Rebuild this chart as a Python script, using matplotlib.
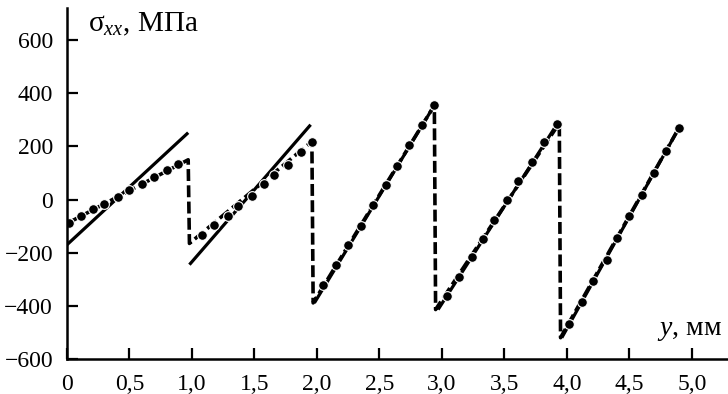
import matplotlib
matplotlib.use("Agg")
import matplotlib.pyplot as plt
import numpy as np

plt.rcParams['font.family'] = ['Liberation Serif', 'DejaVu Serif']
plt.rcParams['mathtext.fontset'] = 'custom'
plt.rcParams['mathtext.rm'] = 'Liberation Serif'
plt.rcParams['mathtext.it'] = 'Liberation Serif:italic'

# Analytical solution (solid sawtooth, NaN separates teeth)
solid_x = [0.00, 0.97, np.nan, 0.98, 1.95, np.nan, 1.98, 2.94, np.nan, 2.97, 3.93, np.nan, 3.96, 4.90]
solid_y = [-170, 252, np.nan, -245, 282, np.nan, -389, 355, np.nan, -414, 290, np.nan, -520, 272]

# Numerical solution (dashed path incl. vertical drops)
dash_x = [0.00, 0.97, 0.98, 1.96, 1.97, 2.94, 2.95, 3.94, 3.95, 4.90]
dash_y = [-90, 150, -165, 219, -389, 355, -414, 288, -520, 272]

# Numerical solution sample points (markers)
mark_x = [0.02, 0.11, 0.21, 0.30, 0.41, 0.50, 0.60, 0.70, 0.80, 0.89,
          1.08, 1.18, 1.29, 1.37, 1.48, 1.58, 1.66, 1.77, 1.87, 1.96,
          2.05, 2.15, 2.25, 2.35, 2.45, 2.55, 2.64, 2.74, 2.84, 2.94,
          3.04, 3.14, 3.24, 3.33, 3.42, 3.52, 3.61, 3.72, 3.82, 3.92,
          4.02, 4.12, 4.21, 4.32, 4.40, 4.50, 4.60, 4.70, 4.79, 4.90]
mark_y = [-88, -60, -35, -15, 10, 35, 60, 85, 110, 135,
          -135, -97, -60, -25, 15, 60, 94, 132, 178, 217,
          -320, -247, -172, -98, -19, 54, 128, 207, 282, 355,
          -364, -291, -217, -147, -75, -3, 71, 142, 217, 286,
          -470, -386, -307, -226, -144, -63, 19, 100, 182, 270]

xticks = [0, 0.5, 1.0, 1.5, 2.0, 2.5, 3.0, 3.5, 4.0, 4.5, 5.0]
xticklabels = ['0', '0,5', '1,0', '1,5', '2,0', '2,5', '3,0', '3,5', '4,0', '4,5', '5,0']
yticks = [-600, -400, -200, 0, 200, 400, 600]
yticklabels = ['\u2212600', '\u2212400', '\u2212200', '0', '200', '400', '600']

fig = plt.figure(figsize=(7.28, 3.94), dpi=100)
ax = fig.add_axes([0.092, 0.089, 0.908, 0.891])

ax.plot(solid_x, solid_y, color='black', lw=2.3, solid_capstyle='butt')
ax.plot(dash_x, dash_y, color='black', lw=2.6, dashes=(3.3, 1.2))
ax.plot(mark_x, mark_y, linestyle='none', marker='o', ms=7, color='black',
        markeredgecolor='white', markeredgewidth=0.8)

ax.set_xlim(0, 5.29)
ax.set_ylim(-600, 722)
ax.set_xticks(xticks)
ax.set_xticklabels(xticklabels)
ax.set_yticks(yticks)
ax.set_yticklabels(yticklabels)

for s in ['top', 'right']:
    ax.spines[s].set_visible(False)
for s in ['left', 'bottom']:
    ax.spines[s].set_linewidth(1.8)

ax.tick_params(direction='in', length=8, width=1.6, labelsize=17)
ax.tick_params(axis='x', pad=11)
ax.tick_params(axis='y', pad=10)

ax.text(0.17, 632, '\u03c3$_{\\mathit{xx}}$, МПа', fontsize=21, va='baseline', ha='left')
ax.text(4.72, -508, '$\\mathit{y}$, мм', fontsize=20, va='baseline', ha='left')

fig.savefig('out.png', dpi=100)
